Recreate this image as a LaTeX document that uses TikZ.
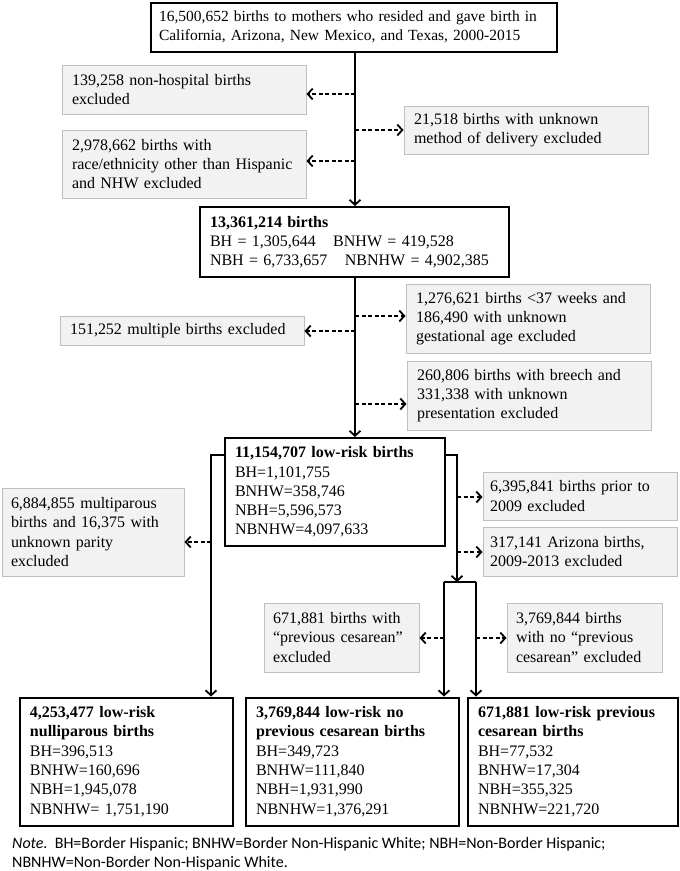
\documentclass[tikz,border=0pt]{standalone}
\usepackage{fontspec}
\setmainfont{Liberation Serif}
\newfontfamily\notefont{Carlito}
\usetikzlibrary{arrows.meta}
\definecolor{gfill}{HTML}{F2F2F2}
\definecolor{gline}{HTML}{BFBFBF}
\begin{document}
\begin{tikzpicture}[x=1pt,y=-1pt,
  every node/.style={font=\fontsize{16}{19.3}\selectfont},
  mbox/.style={draw=black,line width=2pt,fill=white,rectangle,inner xsep=10pt,inner ysep=0pt,align=left},
  gbox/.style={draw=gline,line width=1pt,fill=gfill,rectangle,inner xsep=10pt,inner ysep=0pt,align=left},
  ar/.style={line width=1.8pt,-{Straight Barb[length=5pt,width=11pt,line width=1.8pt]}},
  da/.style={line width=1.8pt,dash pattern=on 4pt off 2.5pt,-{Straight Barb[length=5pt,width=11pt,line width=1.8pt]}},
  ln/.style={line width=1.8pt}]
\useasboundingbox (0,0) rectangle (680,871);
% nodes
\node[mbox,minimum width=406pt,minimum height=49pt,text width=390pt,inner xsep=8pt,font=\fontsize{15.5}{19.3}\selectfont] (top) at (354,27)
 {16,500,652 births to mothers who resided and gave birth in\\California, Arizona, New Mexico, and Texas, 2000-2015};
\node[gbox,minimum width=244pt,minimum height=49pt,text width=224pt] (nonhosp) at (184,89.5)
 {139,258 non-hospital births\\excluded};
\node[gbox,minimum width=244pt,minimum height=48pt,text width=224pt] (unkmeth) at (526,130)
 {21,518 births with unknown\\method of delivery excluded};
\node[gbox,minimum width=244pt,minimum height=68pt,text width=224pt] (race) at (184,164)
 {2,978,662 births with\\race/ethnicity other than Hispanic\\and NHW excluded};
\node[mbox,minimum width=309pt,minimum height=70pt,text width=289pt] (box2) at (354.5,242)
 {\textbf{13,361,214 births}\\BH = 1,305,644\hspace{0.75em} BNHW = 419,528\\NBH = 6,733,657\hspace{0.75em} NBNHW = 4,902,385};
\node[gbox,minimum width=244pt,minimum height=69pt,text width=224pt] (gest) at (528,318.5)
 {1,276,621 births <37 weeks and\\186,490 with unknown\\gestational age excluded};
\node[gbox,minimum width=244pt,minimum height=29pt,text width=224pt] (mult) at (182,330.5)
 {151,252 multiple births excluded};
\node[gbox,minimum width=244pt,minimum height=69pt,text width=224pt] (breech) at (529,395.5)
 {260,806 births with breech and\\331,338 with unknown\\presentation excluded};
\node[mbox,minimum width=220pt,minimum height=108pt,text width=200pt] (box3) at (335,492)
 {\textbf{11,154,707 low-risk births}\\BH=1,101,755\\BNHW=358,746\\NBH=5,596,573\\NBNHW=4,097,633};
\node[gbox,minimum width=182pt,minimum height=88pt,text width=164pt,inner xsep=9pt] (multip) at (93,532)
 {6,884,855 multiparous\\births and 16,375 with\\unknown parity\\excluded};
\node[gbox,minimum width=194pt,minimum height=48pt,text width=180pt,inner xsep=7pt] (prior) at (580,496)
 {6,395,841 births prior to\\2009 excluded};
\node[gbox,minimum width=194pt,minimum height=49pt,text width=180pt,inner xsep=7pt] (az) at (580,551.5)
 {317,141 Arizona births,\\2009-2013 excluded};
\node[gbox,minimum width=155pt,minimum height=69pt,text width=137pt,inner xsep=9pt] (prevc) at (341.5,637.5)
 {671,881 births with\\“previous cesarean”\\excluded};
\node[gbox,minimum width=155pt,minimum height=69pt,text width=137pt,inner xsep=9pt] (noprevc) at (584.5,637.5)
 {3,769,844 births\\with no “previous\\cesarean” excluded};
\node[mbox,minimum width=213pt,minimum height=128pt,text width=193pt] (nullip) at (126.5,761.5)
 {\textbf{4,253,477 low-risk}\\\textbf{nulliparous births}\\BH=396,513\\BNHW=160,696\\NBH=1,945,078\\NBNHW= 1,751,190};
\node[mbox,minimum width=213pt,minimum height=128pt,text width=193pt] (noprev) at (352.5,761.5)
 {\textbf{3,769,844 low-risk no}\\\textbf{previous cesarean births}\\BH=349,723\\BNHW=111,840\\NBH=1,931,990\\NBNHW=1,376,291};
\node[mbox,minimum width=210pt,minimum height=128pt,text width=190pt] (prev) at (573,761.5)
 {\textbf{671,881 low-risk previous}\\\textbf{cesarean births}\\BH=77,532\\BNHW=17,304\\NBH=355,325\\NBNHW=221,720};
\node[anchor=north west,inner sep=0pt,align=left,font=\notefont\fontsize{16}{19}\selectfont] (note) at (12,837)
 {\textit{Note.}\ \ BH=Border Hispanic; BNHW=Border Non-Hispanic White; NBH=Non-Border Hispanic;\\NBNHW=Non-Border Non-Hispanic White.};
% junction coordinates
\coordinate (spine) at (355,0);
\coordinate (lb) at (211,0);
\coordinate (rb) at (457,0);
\coordinate (sl) at (444,582);
\coordinate (sr) at (476,582);
\coordinate (d1) at (355,94);
\coordinate (d2) at (355,130);
\coordinate (d3) at (355,161);
\coordinate (d4) at (355,316);
\coordinate (d5) at (355,331);
\coordinate (d6) at (355,404);
\coordinate (d7) at (211,542);
\coordinate (d8) at (457,497);
\coordinate (d9) at (457,552);
\coordinate (d10) at (444,638);
\coordinate (d11) at (476,638);
% solid connectors
\draw[ar] (spine |- top.south) -- (spine |- box2.north);
\draw[ar] (spine |- box2.south) -- (spine |- box3.north);
\draw[ar] ([yshift=-18pt]box3.north west) -| (lb |- nullip.north);
\draw[ar] ([yshift=-18pt]box3.north east) -| (rb |- sl);
\draw[ln] (sl) -- (sr);
\draw[ar] (sl) -- (sl |- noprev.north);
\draw[ar] (sr) -- (sr |- prev.north);
% dashed connectors
\draw[da] (d1) -- (d1 -| nonhosp.east);
\draw[da] (d2) -- (d2 -| unkmeth.west);
\draw[da] (d3) -- (d3 -| race.east);
\draw[da] (d4) -- (d4 -| gest.west);
\draw[da] (d5) -- (d5 -| mult.east);
\draw[da] (d6) -- (d6 -| breech.west);
\draw[da] (d7) -- (d7 -| multip.east);
\draw[da] (d8) -- (d8 -| prior.west);
\draw[da] (d9) -- (d9 -| az.west);
\draw[da] (d10) -- (d10 -| prevc.east);
\draw[da] (d11) -- (d11 -| noprevc.west);
\end{tikzpicture}
\end{document}
